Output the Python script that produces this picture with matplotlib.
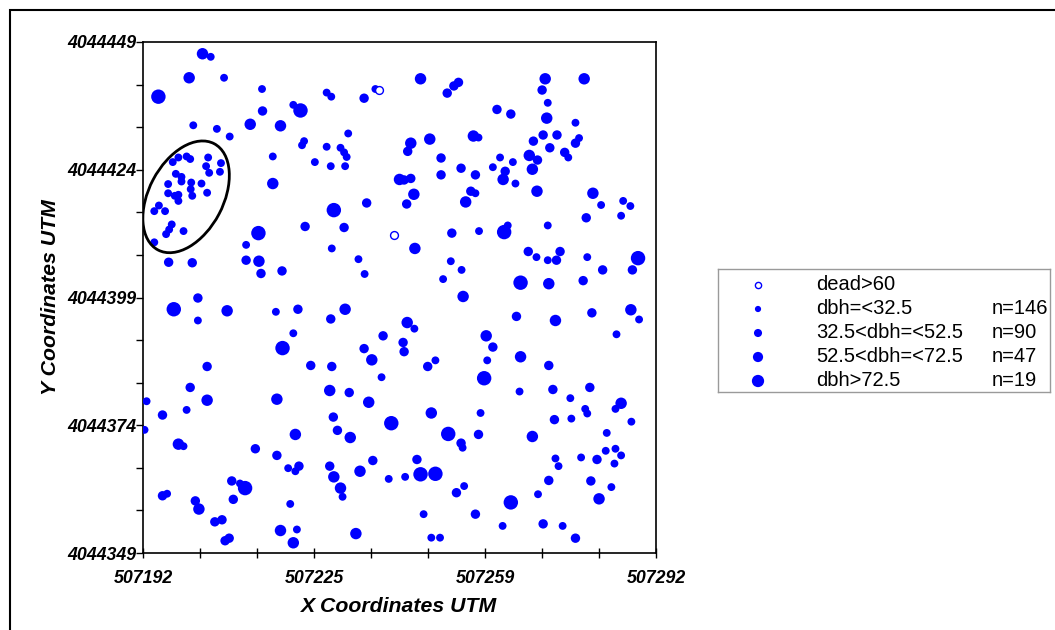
import matplotlib.pyplot as plt
import numpy as np
from matplotlib.patches import Ellipse, Rectangle

# local origin of the plot (UTM), tree positions are metres from it
X0 = 507192
Y0 = 4044349

# dbh =< 32.5
x_small = [13.2, 15.8, 23.2, 9.8, 14.4, 16.9, 29.3, 31.4, 31.0, 25.3, 33.5, 5.8, 6.9, 8.5, 9.2,
           12.7, 15.2, 12.3, 12.9, 15.0, 6.4, 7.5, 7.5, 9.4, 11.4, 4.9, 9.3, 4.9, 6.9, 6.2, 9.6,
           12.5, 6.9, 3.1, 2.2, 4.3, 5.6, 5.1, 4.5, 7.9, 2.2, 20.1, 10.7, 25.9, 29.3,
           0.7, 8.5, 0.3, 7.9, 28.3, 29.7, 18.9, 4.7, 28.7, 30.0,
           35.8, 36.7, 45.3, 40.0, 35.8, 38.5, 39.2, 39.7, 36.6, 39.4, 65.4, 64.8,
           36.8, 42.0, 43.2, 65.5, 60.0, 62.1, 58.5, 52.9, 57.0, 46.5,
           65.8, 62.3, 47.9, 51.1, 38.9, 62.6, 54.7, 56.2, 57.9,
           78.9, 84.3, 85.0, 82.9, 69.6, 72.1, 68.2, 72.6, 89.3, 93.6, 95.0,
           93.2, 71.1, 78.9, 76.7, 78.9, 86.6, 96.7, 92.3, 67.1,
           73.4, 83.3, 92.1, 86.2, 86.6, 83.5, 95.2, 90.4, 90.2, 92.1, 93.2, 91.9, 85.4,
           80.4, 81.0, 91.3, 77.0, 70.1, 81.8]
y_small = [97.1, 93.0, 90.8, 83.7, 83.0, 81.5, 87.7, 80.6, 79.8, 77.6, 76.5, 76.5, 77.4, 77.6, 77.1,
           77.4, 76.3, 75.7, 74.4, 74.6, 74.2, 73.6, 72.7, 72.5, 72.3, 72.2, 71.2, 70.4, 70.1, 69.9, 69.9,
           70.5, 68.9, 68.0, 66.9, 66.9, 64.3, 63.3, 62.4, 63.0, 60.8, 60.3, 45.5, 47.2, 43.0,
           29.7, 28.0, 24.1, 20.9, 16.6, 16.0, 13.6, 11.6, 9.6, 4.6,
           90.1, 89.3, 90.8, 82.1, 79.5, 79.3, 78.4, 77.5, 75.7, 75.7, 81.3, 70.4,
           59.6, 57.5, 54.6, 63.0, 57.1, 55.4, 53.6, 43.9, 37.7, 34.4,
           27.4, 20.6, 14.5, 14.9, 11.0, 13.1, 7.6, 3.0, 3.0,
           88.1, 84.2, 81.2, 77.4, 77.4, 76.5, 75.5, 72.3, 68.1, 68.9, 67.9,
           66.0, 64.1, 64.1, 57.9, 57.3, 57.9, 45.7, 42.8, 37.7,
           31.6, 30.3, 28.2, 28.2, 27.3, 26.3, 25.7, 23.5, 20.0, 20.4, 19.1, 17.5, 18.7,
           18.5, 17.0, 12.9, 11.5, 5.3, 5.3]

# 32.5 < dbh =< 52.5
x_mid = [23.3, 31.6, 5.0, 9.6, 20.1, 23.0, 27.1, 10.7, 30.2, 12.5, 32.7,
         9.2, 3.8, 21.9, 26.1, 30.4, 17.3, 3.8, 17.6, 10.2, 14.0, 15.4, 16.0, 16.8,
         43.1, 61.5, 60.6, 59.3, 51.6, 58.1, 50.9, 52.2, 58.1, 62.0, 64.8, 63.9, 43.6, 51.4,
         39.2, 60.2, 36.6, 46.8, 50.7, 50.9, 43.1, 36.8, 55.5,
         40.2, 37.1, 37.9, 62.0, 65.4, 36.4, 44.8, 53.4, 61.1, 64.8,
         77.8, 69.0, 71.7, 76.1, 78.0, 80.7, 79.3, 84.3, 82.2, 76.9, 70.6,
         86.4, 75.1, 80.6, 81.3, 89.6, 95.4, 85.8, 72.8, 87.5, 68.2, 79.1,
         79.9, 87.1, 80.2, 88.5, 79.1, 87.3, 78.0, 84.3]
y_mid = [86.5, 63.9, 56.9, 56.8, 57.3, 54.7, 55.2, 49.9, 47.7, 36.5, 36.7,
         32.4, 27.0, 20.4, 19.1, 17.0, 14.1, 11.2, 10.5, 10.2, 6.1, 6.5, 2.4, 2.9,
         89.0, 92.1, 91.4, 90.0, 78.6, 77.3, 73.0, 73.3, 74.0, 75.3, 74.0, 70.8, 68.5, 68.3,
         63.7, 62.6, 45.8, 42.5, 41.2, 39.4, 40.0, 36.5, 36.5,
         31.4, 26.6, 24.0, 21.5, 23.2, 17.0, 18.1, 18.3, 11.8, 7.6,
         90.6, 86.8, 85.9, 80.6, 81.8, 81.8, 79.3, 80.2, 78.4, 76.9, 74.7,
         65.6, 59.0, 57.3, 59.0, 55.4, 55.4, 53.3, 46.3, 47.0, 40.3, 36.7,
         32.0, 32.4, 26.1, 18.3, 14.2, 14.1, 5.7, 2.9]

# 52.5 < dbh =< 72.5
x_large = [11.6, 9.0, 20.9, 26.8, 25.3, 22.6, 16.4,
           12.5, 26.1, 6.9, 29.7, 10.9, 26.8, 29.3,
           54.1, 52.2, 55.9, 64.4, 50.0, 52.8, 62.9,
           53.0, 62.4, 39.4, 51.5, 44.6,
           36.4, 44.0, 40.4, 56.2, 37.2, 42.3, 38.5, 41.5,
           78.4, 86.0, 78.7, 75.3, 75.9, 70.2, 76.8, 87.7,
           79.1, 80.4, 95.1, 66.9, 73.6, 93.2, 75.9, 88.9]
y_large = [97.7, 93.0, 83.9, 83.6, 72.3, 57.1, 47.4,
           29.9, 30.1, 21.3, 23.2, 8.6, 4.4, 2.0,
           92.8, 80.2, 81.0, 81.6, 73.1, 70.2, 68.7,
           59.6, 50.2, 47.7, 45.1, 37.8,
           31.8, 29.5, 22.6, 27.4, 14.9, 16.0, 12.7, 3.8,
           92.8, 92.8, 85.1, 77.8, 75.1, 73.1, 70.8, 70.4,
           52.7, 45.5, 47.6, 42.5, 38.4, 29.3, 22.8, 10.6]

# dbh > 72.5
x_xlarge = [3.0, 30.7, 22.5, 6.0, 27.2, 19.9, 37.2, 48.4, 59.5, 54.1, 57.0, 70.4, 96.5, 73.6, 66.5, 71.7]
y_xlarge = [89.3, 86.6, 62.6, 47.7, 40.1, 12.7, 67.1, 25.4, 23.3, 15.4, 15.5, 62.8, 57.7, 52.9, 34.2, 9.9]

# dead > 60
x_dead = [46.1, 49.0]
y_dead = [90.7, 62.3]

legend_labels = ["dead>60", "dbh=<32.5", "32.5<dbh=<52.5", "52.5<dbh=<72.5", "dbh>72.5"]
legend_counts = ["", "n=146", "n=90", "n=47", "n=19"]

x_tick_labels = ["507192", "507225", "507259", "507292"]
y_tick_labels = ["4044349", "4044374", "4044399", "4044424", "4044449"]

plt.rcParams['font.family'] = ['Liberation Sans', 'DejaVu Sans']
blue = '#0000ff'

fig = plt.figure(figsize=(10.55, 6.3), dpi=100)
ax = fig.add_axes([143 / 1055, 77 / 630, 513 / 1055, 511 / 630])

classes = [(x_small, y_small, 32), (x_mid, y_mid, 46), (x_large, y_large, 68), (x_xlarge, y_xlarge, 108)]
for xs, ys, s in classes:
    ax.scatter(X0 + np.array(xs), Y0 + np.array(ys), s=s, c=blue, edgecolors='none', zorder=3)
ax.scatter(X0 + np.array(x_dead), Y0 + np.array(y_dead), s=32, facecolors='white',
           edgecolors=blue, linewidths=1.0, zorder=3)

# cluster outline
ax.add_patch(Ellipse((X0 + 8.4, Y0 + 69.7), 23.5, 14.5, angle=62.3, fill=False,
                     edgecolor='black', lw=2, zorder=4))

ax.set_xlim(X0, X0 + 100)
ax.set_ylim(Y0, Y0 + 100)

xt = X0 + np.arange(10) * 100 / 9
ax.set_xticks(xt)
ax.set_xticklabels([x_tick_labels[i // 3] if i % 3 == 0 else '' for i in range(10)])
yt = Y0 + np.arange(13) * 100 / 12
ax.set_yticks(yt)
ax.set_yticklabels([y_tick_labels[i // 3] if i % 3 == 0 else '' for i in range(13)])

ax.tick_params(axis='x', direction='inout', length=7, width=1, pad=9)
ax.tick_params(axis='y', direction='out', length=5, width=1, pad=0)
for lab in ax.get_xticklabels() + ax.get_yticklabels():
    lab.set_fontsize(12.8)
    lab.set_fontweight('bold')
    lab.set_fontstyle('italic')
for sp in ax.spines.values():
    sp.set_linewidth(1.2)

ax.set_xlabel('X Coordinates UTM', fontsize=15.3, fontweight='bold', fontstyle='italic', labelpad=7)
ax.set_ylabel('Y Coordinates UTM', fontsize=15.3, fontweight='bold', fontstyle='italic', labelpad=5)

# legend box
lax = fig.add_axes([718 / 1055, (630 - 392) / 630, 332 / 1055, 123 / 630])
lax.set_xlim(0, 332)
lax.set_ylim(123, 0)
lax.set_xticks([])
lax.set_yticks([])
for sp in lax.spines.values():
    sp.set_edgecolor('#9a9a9a')
    sp.set_linewidth(1)
marker_sizes = [20, 20, 34, 54, 78]
for i, (lab, cnt, ms) in enumerate(zip(legend_labels, legend_counts, marker_sizes)):
    yy = 16 + i * 24
    if i == 0:
        lax.scatter([40], [yy], s=ms, facecolors='white', edgecolors=blue, linewidths=1)
    else:
        lax.scatter([40], [yy], s=ms, c=blue, edgecolors='none')
    lax.text(98, yy, lab, fontsize=14.5, va='center', ha='left')
    lax.text(274, yy, cnt, fontsize=14.5, va='center', ha='left')

# outer frame
fig.add_artist(Rectangle((10 / 1055, -0.1), 1.2, 1.1 - 10 / 630, transform=fig.transFigure,
                         fill=False, edgecolor='black', lw=1.5))

fig.savefig('out.png', dpi=100)
